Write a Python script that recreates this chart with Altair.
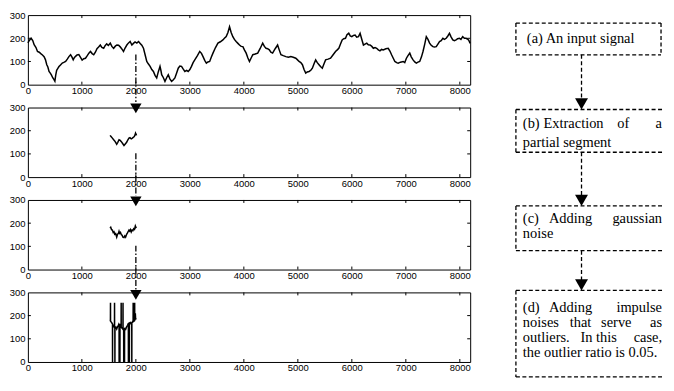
import altair as alt
import pandas as pd

# ---------------- data ----------------
SIGNAL = [
    (0, 180), (30, 192), (60, 200), (90, 190), (116, 172), (150, 160), (178, 143), (210, 140), (239, 134), (270, 128),
    (300, 121), (325, 108), (350, 86), (370, 76), (392, 57), (415, 50), (435, 42), (460, 30), (484, 22), (500, 15),
    (515, 40), (533, 62), (555, 70), (576, 78), (600, 84), (637, 93), (665, 96), (699, 100), (730, 110), (760, 121),
    (791, 129), (815, 120), (840, 107), (860, 116), (883, 122), (910, 128), (944, 130), (975, 118), (1005, 106), (1035, 112),
    (1067, 114), (1100, 125), (1130, 136), (1159, 143), (1190, 134), (1220, 129), (1250, 140), (1280, 155), (1310, 162), (1342, 171),
    (1370, 161), (1404, 157), (1430, 168), (1460, 176), (1490, 169), (1526, 179), (1555, 165), (1588, 157), (1620, 166), (1649, 171),
    (1680, 170), (1710, 163), (1740, 154), (1771, 143), (1800, 158), (1833, 171), (1860, 179), (1894, 186), (1926, 171), (1955, 178),
    (1985, 184), (2018, 179), (2050, 186), (2080, 178), (2110, 170), (2141, 157), (2170, 130), (2202, 100), (2230, 90), (2264, 79),
    (2295, 65), (2325, 57), (2355, 40), (2386, 29), (2415, 55), (2447, 79), (2465, 60), (2478, 43), (2510, 30), (2539, 14),
    (2570, 30), (2600, 43), (2630, 25), (2662, 14), (2690, 20), (2723, 29), (2755, 50), (2785, 71), (2815, 80), (2846, 79),
    (2875, 68), (2907, 57), (2940, 62), (2969, 57), (3000, 65), (3030, 79), (3060, 95), (3091, 107), (3140, 125), (3183, 143),
    (3215, 135), (3244, 121), (3275, 105), (3306, 93), (3335, 98), (3367, 100), (3400, 120), (3428, 136), (3475, 160), (3520, 179),
    (3565, 185), (3612, 193), (3640, 200), (3673, 207), (3705, 225), (3735, 250), (3765, 225), (3796, 207), (3825, 195), (3857, 186),
    (3890, 178), (3919, 171), (3950, 165), (3982, 164), (4010, 150), (4043, 136), (4075, 115), (4104, 100), (4135, 115), (4166, 129),
    (4210, 132), (4257, 136), (4300, 155), (4349, 179), (4380, 165), (4411, 157), (4440, 155), (4472, 150), (4500, 140), (4533, 136),
    (4580, 155), (4625, 171), (4655, 150), (4687, 129), (4730, 125), (4778, 121), (4825, 118), (4870, 121), (4915, 118), (4962, 114),
    (4990, 108), (5023, 100), (5055, 95), (5085, 86), (5115, 65), (5146, 50), (5175, 55), (5208, 57), (5240, 62), (5269, 71),
    (5300, 90), (5330, 107), (5360, 95), (5392, 86), (5420, 78), (5453, 71), (5485, 90), (5514, 107), (5560, 110), (5606, 114),
    (5650, 128), (5698, 143), (5730, 150), (5759, 157), (5790, 175), (5821, 193), (5850, 198), (5882, 200), (5910, 215), (5943, 222),
    (5970, 210), (6000, 207), (6030, 212), (6061, 214), (6090, 205), (6123, 207), (6153, 221), (6185, 195), (6215, 171), (6245, 175),
    (6276, 179), (6305, 172), (6337, 171), (6370, 165), (6399, 157), (6430, 160), (6460, 157), (6490, 150), (6521, 146), (6550, 152),
    (6582, 150), (6630, 155), (6674, 157), (6705, 145), (6736, 129), (6765, 115), (6797, 100), (6830, 95), (6858, 93), (6900, 97),
    (6950, 100), (6980, 95), (7011, 114), (7040, 125), (7073, 136), (7100, 120), (7134, 107), (7165, 98), (7195, 93), (7225, 97),
    (7257, 100), (7290, 120), (7318, 143), (7350, 175), (7379, 207), (7410, 195), (7440, 179), (7470, 170), (7502, 164), (7530, 162),
    (7563, 164), (7594, 175), (7624, 186), (7655, 190), (7686, 200), (7715, 195), (7747, 200), (7778, 210), (7808, 221), (7840, 205),
    (7870, 193), (7900, 190), (7931, 193), (7960, 198), (7992, 200), (8020, 195), (8053, 207), (8085, 200), (8115, 200), (8140, 197),
    (8165, 192), (8192, 178),
]

SEGMENT = [
    (1522, 180), (1540, 175), (1565, 168), (1585, 162), (1608, 156), (1625, 150), (1645, 142), (1665, 150), (1688, 161),
    (1710, 158), (1731, 153), (1755, 145), (1780, 136), (1800, 142), (1829, 150), (1850, 160), (1872, 168), (1890, 170),
    (1914, 165), (1930, 167), (1951, 171), (1970, 175), (1985, 182), (1994, 190), (2005, 185), (2012, 180),
]

NOISY = [
    (1522, 178), (1535, 182), (1550, 172), (1565, 170), (1580, 160), (1595, 163), (1608, 152), (1625, 155), (1645, 140),
    (1660, 152), (1675, 155), (1688, 165), (1700, 156), (1715, 160), (1731, 150), (1745, 148), (1760, 140), (1780, 138),
    (1795, 145), (1810, 140), (1829, 152), (1845, 158), (1860, 165), (1872, 170), (1885, 166), (1900, 172), (1914, 162),
    (1930, 170), (1945, 168), (1960, 176), (1975, 173), (1990, 188), (2000, 182), (2012, 185),
]

OUTLIERS = [
    (1522, 178), (1529, 182), (1530, 255), (1531, 176), (1545, 172), (1556, 168), (1567, 164), (1568, 0), (1569, 160),
    (1585, 158), (1595, 152), (1604, 150), (1605, 255), (1606, 148), (1611, 146), (1612, 0), (1613, 145), (1630, 150),
    (1645, 142), (1660, 152), (1675, 158), (1689, 164), (1690, 0), (1691, 162), (1704, 158), (1705, 0), (1706, 156),
    (1715, 160), (1727, 150), (1728, 255), (1729, 150), (1745, 146), (1761, 142), (1762, 255), (1763, 140), (1774, 138),
    (1775, 0), (1776, 138), (1789, 142), (1790, 0), (1791, 142), (1810, 140), (1829, 152), (1845, 158), (1861, 165),
    (1862, 0), (1863, 166), (1879, 168), (1880, 0), (1881, 168), (1900, 170), (1914, 164), (1924, 168), (1925, 0),
    (1926, 170), (1940, 172), (1949, 174), (1950, 255), (1951, 176), (1960, 175), (1977, 178), (1978, 255), (1979, 180),
    (1990, 210), (1995, 186), (2012, 185),
]

X_TICKS = [0, 1000, 2000, 3000, 4000, 5000, 6000, 7000, 8000]
Y_TICKS = [0, 100, 200, 300]
MARK_X = 2000

# flowchart text (word, x, y, align)
BOX_WORDS = [
    ("(a) An input signal", 525, 37, "left"),
    ("(b)", 521, 123, "left"), ("Extraction", 572, 123, "center"), ("of", 622, 123, "center"), ("a", 661, 123, "right"),
    ("partial segment", 521, 142, "left"),
    ("(c)", 521, 218, "left"), ("Adding", 569, 218, "center"), ("gaussian", 661, 218, "right"),
    ("noise", 521, 233, "left"),
    ("(d)", 521, 308, "left"), ("Adding", 569, 308, "center"), ("impulse", 661, 308, "right"),
    ("noises", 521, 323, "left"), ("that", 579, 323, "center"), ("serve", 615, 323, "center"), ("as", 661, 323, "right"),
    ("outliers.", 521, 338, "left"), ("In", 585, 338, "center"), ("this", 605, 338, "center"), ("case,", 661, 338, "right"),
    ("the outlier ratio is 0.05.", 521, 353, "left"),
]
# (left, top, right, bottom, has right border)
BOXES = [(514, 21, 660, 53, True), (514, 108, 663, 151, False), (514, 205, 663, 250, False), (514, 290, 663, 377, False)]
CONNECTORS = [(580, 53, 100), (580, 151, 196), (580, 250, 280)]
ARROW_TIPS = [(580, 108), (580, 205), (580, 290)]

# ---------------- left column ----------------
W, H = 445, 70
XS = alt.Scale(domain=[0, 8192], nice=False, zero=False)
YS = alt.Scale(domain=[0, 300], nice=False, zero=False)
XAX = alt.Axis(values=X_TICKS, format="d", ticks=False, domain=False, grid=False, title=None,
               labelPadding=1, labelFlush=False)
YAX = alt.Axis(values=Y_TICKS, format="d", ticks=False, domain=False, grid=False, title=None,
               labelPadding=3, labelFlush=False)


def panel(points, guide=None, arrow=None):
    df = pd.DataFrame(points, columns=["x", "y"])
    line = alt.Chart(df).mark_line(color="black", strokeWidth=1.5).encode(
        x=alt.X("x:Q", scale=XS, axis=XAX, title=None),
        y=alt.Y("y:Q", scale=YS, axis=YAX, title=None),
    )
    xt = pd.DataFrame({"x": X_TICKS[1:]})
    yt = pd.DataFrame({"y": Y_TICKS[1:-1]})
    tb = alt.Chart(xt).mark_rule(color="black", strokeWidth=1).encode(
        x=alt.X("x:Q", scale=XS, axis=XAX, title=None), y=alt.value(H), y2=alt.value(H - 3))
    tt = alt.Chart(xt).mark_rule(color="black", strokeWidth=1).encode(
        x=alt.X("x:Q", scale=XS, axis=XAX, title=None), y=alt.value(0), y2=alt.value(3))
    tl = alt.Chart(yt).mark_rule(color="black", strokeWidth=1).encode(
        y=alt.Y("y:Q", scale=YS, axis=YAX, title=None), x=alt.value(0), x2=alt.value(3))
    tr = alt.Chart(yt).mark_rule(color="black", strokeWidth=1).encode(
        y=alt.Y("y:Q", scale=YS, axis=YAX, title=None), x=alt.value(W), x2=alt.value(W - 3))
    layers = [line, tb, tt, tl, tr]
    if guide is not None:
        gdf = pd.DataFrame({"x": [MARK_X], "y": [guide[0]], "y2": [guide[1]]})
        layers.append(alt.Chart(gdf).mark_rule(color="black", strokeWidth=1.3, strokeDash=[6, 2, 1.5, 2]).encode(
            x=alt.X("x:Q", scale=XS, axis=XAX, title=None), y=alt.Y("y:Q", scale=YS, axis=YAX, title=None),
            y2="y2:Q"))
    if arrow is not None:
        adf = pd.DataFrame({"x": [MARK_X], "y": [arrow]})
        layers.append(alt.Chart(adf).mark_point(shape="triangle-down", filled=True, size=130, color="black",
                                                opacity=1).encode(
            x=alt.X("x:Q", scale=XS, axis=XAX, title=None), y=alt.Y("y:Q", scale=YS, axis=YAX, title=None)))
    return alt.layer(*layers).properties(width=W, height=H)


p1 = panel(SIGNAL, guide=(130, -75))
p2 = panel(SEGMENT, guide=(103, -80), arrow=296)
p3 = panel(NOISY, guide=(103, -97), arrow=294)
p4 = panel(OUTLIERS, arrow=289)

left = alt.vconcat(p1, p2, p3, p4, spacing=23, bounds="flush")

# ---------------- flowchart ----------------
FW, FH = 164, 366
FX = alt.Scale(domain=[499, 663], nice=False, zero=False)
FY = alt.Scale(domain=[13, 379], nice=False, zero=False, reverse=True)

h_edges, v_edges = [], []
for (bx1, by1, bx2, by2, closed) in BOXES:
    h_edges += [(bx1, bx2, by1), (bx1, bx2, by2)]
    v_edges.append((bx1, by1, by2))
    if closed:
        v_edges.append((bx2, by1, by2))
hdf = pd.DataFrame(h_edges, columns=["x", "x2", "y"])
vdf = pd.DataFrame(v_edges + CONNECTORS, columns=["x", "y", "y2"])
dash = dict(color="black", strokeWidth=1.3, strokeDash=[4, 2.5])
hlines = alt.Chart(hdf).mark_rule(**dash).encode(
    x=alt.X("x:Q", scale=FX, axis=None), x2="x2:Q", y=alt.Y("y:Q", scale=FY, axis=None))
vlines = alt.Chart(vdf).mark_rule(**dash).encode(
    x=alt.X("x:Q", scale=FX, axis=None), y=alt.Y("y:Q", scale=FY, axis=None), y2="y2:Q")
adf = pd.DataFrame(ARROW_TIPS, columns=["x", "tip"])
adf["y"] = adf["tip"] - 5.6
arrows = alt.Chart(adf).mark_point(shape="triangle-down", filled=True, size=169, color="black", opacity=1).encode(
    x=alt.X("x:Q", scale=FX, axis=None), y=alt.Y("y:Q", scale=FY, axis=None))
wdf = pd.DataFrame(BOX_WORDS, columns=["w", "x", "y", "al"])
texts = []
for al in ["left", "center", "right"]:
    texts.append(alt.Chart(wdf[wdf["al"] == al]).mark_text(
        align=al, baseline="middle", font="Liberation Serif", fontSize=14.5, color="black").encode(
        x=alt.X("x:Q", scale=FX, axis=None), y=alt.Y("y:Q", scale=FY, axis=None), text="w:N"))

flow = alt.layer(hlines, vlines, arrows, *texts).properties(
    width=FW, height=FH, view=alt.ViewBackground(stroke="transparent"))

chart = alt.hconcat(left, flow, spacing=26).properties(
    padding={"left": 0, "top": 0, "right": 0, "bottom": 0}
).configure_view(stroke="black", strokeWidth=1).configure_axis(
    labelFont="Liberation Sans", labelFontSize=9.5, labelColor="black"
)

chart.save("out.html", embed_options={"renderer": "svg", "actions": False})
